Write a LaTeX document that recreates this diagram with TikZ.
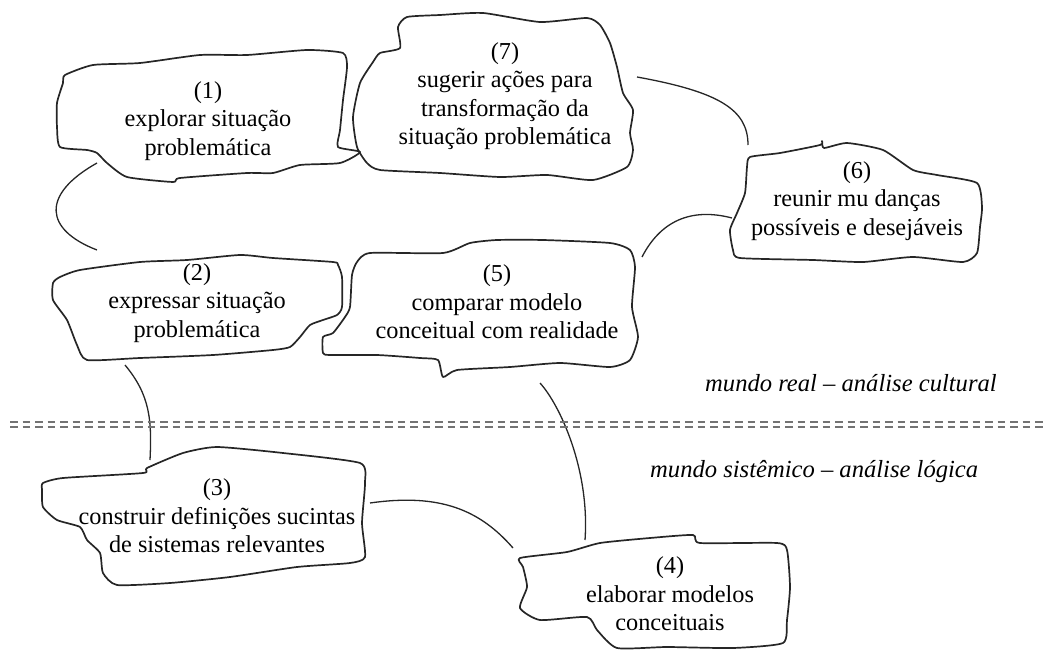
\documentclass[tikz,border=0pt]{standalone}
\usepackage{fontspec}
\setmainfont{Liberation Serif}
\begin{document}
\begin{tikzpicture}[x=1pt,y=-1pt,
  blob/.style={draw=black!85, line width=1.7pt, line join=round},
  link/.style={draw=black!85, line width=1.3pt},
  lbl/.style={align=center, font=\fontsize{24.3}{28.5}\selectfont, inner sep=0pt},
  world/.style={font=\fontsize{24.6}{28}\selectfont\itshape, inner sep=0pt},
  sepline/.style={draw=black!55, line width=2.6pt, dash pattern=on 7.5pt off 5pt}]
\useasboundingbox (0,0) rectangle (1049,650);

% ---- blob outlines ----
% (1)
\draw[blob] plot[smooth cycle, tension=0.35] coordinates {
 (65,75) (93,65) (140,63) (200,55) (247,55) (307,50) (343,53) (347,67)
 (343,100) (340,130) (338,147) (360,152) (340,163) (300,165) (273,173)
 (247,173) (180,178) (173,182) (127,177) (107,163) (97,153) (87,150)
 (60,147) (57,127) (57,103) (63,83)};
% (7)
\draw[blob] plot[smooth cycle, tension=0.35] coordinates {
 (380,53) (400,48) (398,27) (407,17) (440,15) (483,13) (540,22) (587,18)
 (600,25) (610,43) (617,67) (623,93) (633,110) (630,133) (633,150)
 (627,167) (593,180) (547,175) (500,177) (440,173) (380,170) (367,163)
 (357,147) (353,117) (360,83) (373,62)};
% (6)
\draw[blob] plot[smooth cycle, tension=0.35] coordinates {
 (750,157) (780,153) (820,145) (822,141) (824,148) (847,143) (883,150)
 (913,170) (937,175) (977,183) (982,207) (980,227) (977,253) (963,262)
 (913,257) (863,262) (813,260) (740,258) (733,250) (730,230) (737,213)
 (745,193) (747,167)};
% (2)
\draw[blob] plot[smooth cycle, tension=0.35] coordinates {
 (60,277) (80,270) (140,262) (187,260) (240,255) (273,258) (333,262)
 (338,265) (342,277) (342,307) (337,315) (323,320) (310,325) (300,337)
 (290,347) (273,350) (213,355) (140,358)
 (87,360) (77,345) (67,320) (53,300) (53,283)};
% (5)
\draw[blob] plot[smooth cycle, tension=0.35] coordinates {
 (370,253) (443,253) (470,243) (497,240) (543,240) (610,243) (630,250)
 (635,267) (632,307) (638,337) (630,360) (610,367) (560,363) (510,367)
 (457,370) (443,377) (438,360) (420,358) (377,355) (330,355) (323,353)
 (323,337) (333,333) (345,317) (350,307) (352,275) (357,262)};
% (3)
\draw[blob] plot[smooth cycle, tension=0.35] coordinates {
 (43,483) (63,478) (143,473) (147,468) (183,453) (217,447) (283,453)
 (360,463) (365,483) (362,523) (365,557) (350,563) (297,567) (230,577)
 (170,583) (117,585) (103,573) (100,553) (87,540) (80,527) (57,520)
 (43,507) (42,490)};
% (4)
\draw[blob] plot[smooth cycle, tension=0.35] coordinates {
 (520,558) (567,552) (600,543) (650,538) (693,535) (700,543) (777,543)
 (787,550) (790,587) (787,620) (783,643) (733,648) (667,647) (617,648)
 (597,630) (587,617) (540,620) (520,608) (527,587) (523,567)};

% ---- texts ----
\node[lbl] (n1) at (208,121) {(1)\\explorar situação\\problemática};
\node[lbl] (n7) at (505,96) {(7)\\sugerir ações para\\transformação da\\situação problemática};
\node[lbl] (n6) at (857,201) {(6)\\reunir mu danças\\possíveis e desejáveis};
\node[lbl] (n2) at (197,303) {(2)\\expressar situação\\problemática};
\node[lbl] (n5) at (497,302) {(5)\\comparar modelo\\conceitual com realidade};
\node[lbl] (n3) at (217,516) {(3)\\construir definições sucintas\\de sistemas relevantes};
\node[lbl] (n4) at (670,594) {(4)\\elaborar modelos\\conceituais};

% ---- connector ends ----
\coordinate (a1) at (97,163);  \coordinate (a2) at (97,250);
\coordinate (b1) at (637,77);  \coordinate (b2) at (748,145);
\coordinate (c1) at (732,218); \coordinate (c2) at (642,257);
\coordinate (d1) at (125,365); \coordinate (d2) at (150,460);
\coordinate (e1) at (540,383); \coordinate (e2) at (585,540);
\coordinate (f1) at (370,503); \coordinate (f2) at (513,548);

\draw[link] (a1) .. controls (40,195) and (45,230) .. (a2);
\draw[link] (b1) .. controls (720,92) and (748,110) .. (b2);
\draw[link] (c1) .. controls (690,207) and (660,222) .. (c2);
\draw[link] (d1) .. controls (150,395) and (152,420) .. (d2);
\draw[link] (e1) .. controls (560,405) and (590,470) .. (e2);
\draw[link] (f1) .. controls (440,493) and (480,510) .. (f2);

% ---- separator ----
\coordinate (sL1) at (10,422); \coordinate (sR1) at (1045,422);
\coordinate (sL2) at (10,427); \coordinate (sR2) at (1045,427);
\draw[sepline] (sL1) -- (sR1);
\draw[sepline] (sL2) -- (sR2);

\node[world, anchor=west] (w1) at (705,383) {mundo real – análise cultural};
\node[world, anchor=west] (w2) at (650,472) {mundo sistêmico – análise lógica};
\end{tikzpicture}
\end{document}
